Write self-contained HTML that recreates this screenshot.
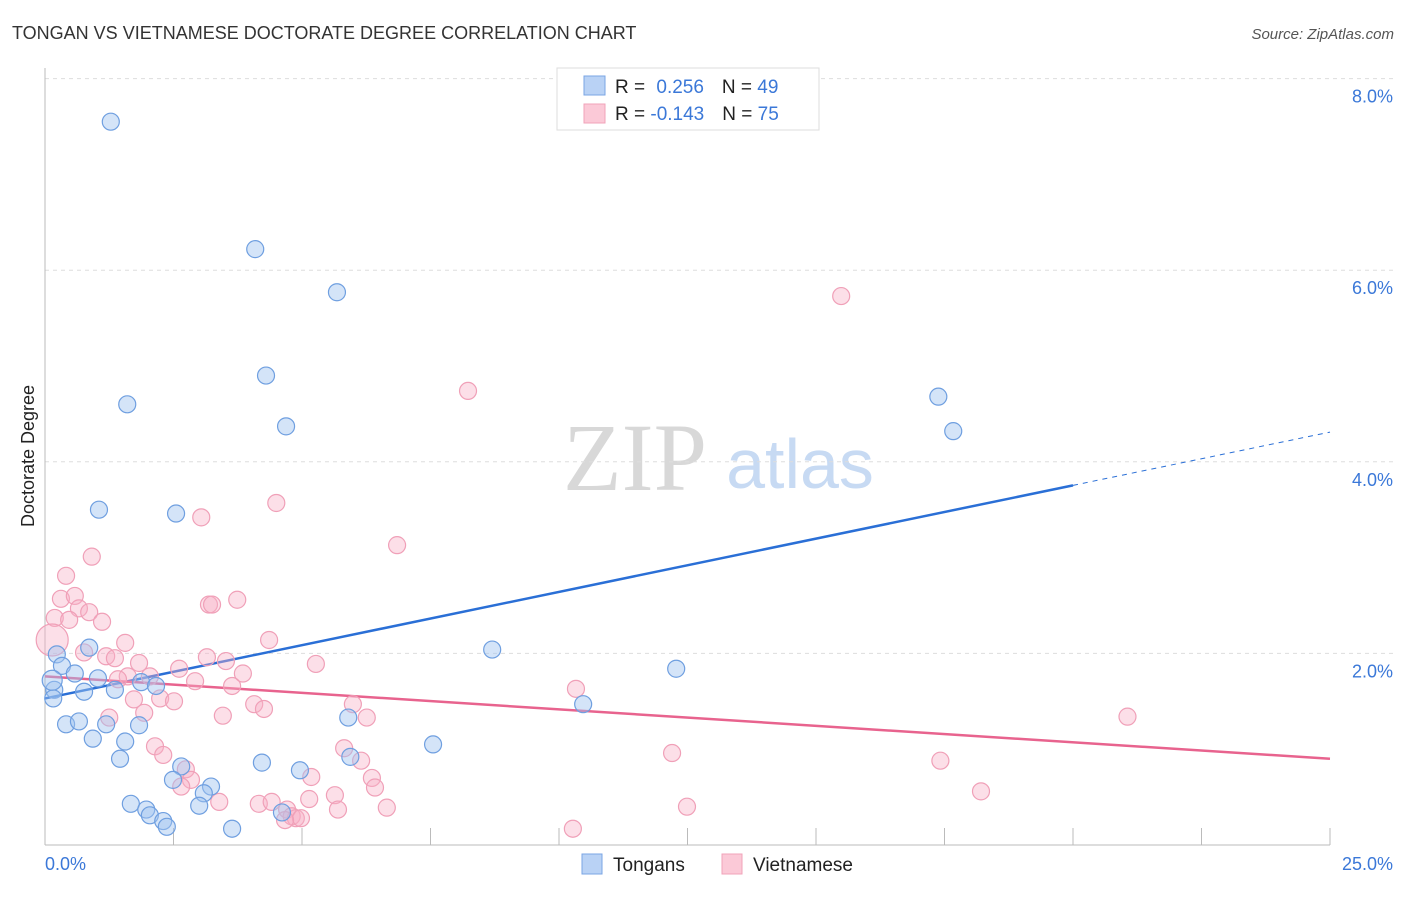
<!DOCTYPE html>
<html><head><meta charset="utf-8"><style>
body{margin:0;background:#fff;font-family:"Liberation Sans",sans-serif}
</style></head><body>
<svg id="chart" width="1406" height="892" viewBox="0 0 1406 892" xmlns="http://www.w3.org/2000/svg">
<text x="12" y="39" font-size="18" fill="#333">TONGAN VS VIETNAMESE DOCTORATE DEGREE CORRELATION CHART</text>
<text x="1394" y="39" font-size="15" fill="#555" text-anchor="end" font-style="italic">Source: ZipAtlas.com</text>
<g>
<text x="635" y="490" font-size="96" fill="#d8d8d8" font-family="Liberation Serif,serif" text-anchor="middle">ZIP</text>
<text x="800" y="488" font-size="70" fill="#c7daf3" text-anchor="middle">atlas</text>
</g>
<g id="grid"></g>
<line x1="45" y1="68" x2="45" y2="845" stroke="#bbb"/>
<line x1="45" y1="845" x2="1330" y2="845" stroke="#bbb"/>
<g id="xticks"></g>
<g id="trend"></g>
<g id="points"></g>
<text x="34" y="456" font-size="18" fill="#222" text-anchor="middle" transform="rotate(-90 34 456)">Doctorate Degree</text>
<text x="45" y="870" font-size="18" fill="#3b78d8">0.0%</text>
<text x="1393" y="870" font-size="18" fill="#3b78d8" text-anchor="end">25.0%</text>
<g>
<rect x="557" y="68" width="262" height="62" fill="#fff" stroke="#ddd"/>
<rect x="584" y="76" width="21" height="19" fill="#b9d2f5" stroke="#7aa5e4"/>
<rect x="584" y="104" width="21" height="19" fill="#fbc9d7" stroke="#f0a3ba"/>
<text x="615" y="93" font-size="19" fill="#222">R = <tspan fill="#3b78d8" dx="6">0.256</tspan><tspan dx="18">N = </tspan><tspan fill="#3b78d8">49</tspan></text>
<text x="615" y="120" font-size="19" fill="#222">R = <tspan fill="#3b78d8">-0.143</tspan><tspan dx="18">N = </tspan><tspan fill="#3b78d8">75</tspan></text>
</g>
<g>
<rect x="582" y="854" width="20" height="20" fill="#b9d2f5" stroke="#7aa5e4"/>
<text x="613" y="871" font-size="19" fill="#222">Tongans</text>
<rect x="722" y="854" width="20" height="20" fill="#fbc9d7" stroke="#f0a3ba"/>
<text x="753" y="871" font-size="19" fill="#222">Vietnamese</text>
</g>
</svg>
<script>
const yTicks=[2,4,6,8];
const xTicks=[2.5,5,7.5,10,12.5,15,17.5,20,22.5,25];
const tonganX=[1.28,4.09,5.68,4.30,1.60,4.69,17.38,17.67,1.05,2.55,8.70,12.28,10.47,0.23,0.86,0.33,0.58,0.18,1.03,0.76,1.36,1.87,2.16,0.16,0.41,0.66,1.19,1.83,0.93,1.56,1.46,5.90,5.94,7.55,2.65,2.49,3.23,3.09,4.22,4.96,1.67,1.97,2.04,2.30,2.37,3.00,3.64,4.61,0.14];
const tonganY=[7.55,6.22,5.77,4.90,4.60,4.37,4.68,4.32,3.50,3.46,2.04,1.84,1.47,1.99,2.06,1.87,1.79,1.62,1.74,1.60,1.62,1.70,1.66,1.53,1.26,1.29,1.26,1.25,1.11,1.08,0.90,1.33,0.92,1.05,0.82,0.68,0.61,0.54,0.86,0.78,0.43,0.37,0.31,0.25,0.19,0.41,0.17,0.34,1.72];
const vietX=[15.49,8.23,4.50,3.04,6.85,0.91,0.41,0.31,0.58,0.66,0.86,1.11,0.19,0.47,0.14,3.74,3.19,3.25,1.56,4.36,0.76,1.19,1.36,1.83,3.15,3.52,5.27,2.61,1.61,1.42,2.04,2.92,3.85,3.64,10.33,2.24,2.51,1.73,4.07,4.26,5.99,1.93,1.25,3.46,6.26,21.06,2.14,2.30,5.82,6.15,2.74,2.84,2.65,5.18,6.36,6.42,12.20,17.42,18.21,3.39,4.16,4.41,5.14,5.64,4.71,4.80,4.88,4.98,4.67,5.70,6.65,12.49,10.27];
const vietY=[5.73,4.74,3.57,3.42,3.13,3.01,2.81,2.57,2.60,2.47,2.43,2.33,2.37,2.35,2.14,2.56,2.51,2.51,2.11,2.14,2.01,1.97,1.95,1.90,1.96,1.92,1.89,1.84,1.76,1.73,1.76,1.71,1.79,1.66,1.63,1.53,1.50,1.52,1.47,1.42,1.47,1.38,1.33,1.35,1.33,1.34,1.03,0.94,1.01,0.88,0.79,0.68,0.61,0.71,0.70,0.60,0.96,0.88,0.56,0.45,0.43,0.45,0.48,0.52,0.37,0.30,0.28,0.28,0.26,0.37,0.39,0.40,0.17];
const tonganTrend=[1.53,4.31];
const vietTrend=[1.76,0.90];
const NS='http://www.w3.org/2000/svg';
const X=v=>45+v/25*1285;
const Y=v=>845-v*95.8;
function mk(tag,attrs,parent){const e=document.createElementNS(NS,tag);for(const k in attrs)e.setAttribute(k,attrs[k]);parent.appendChild(e);return e;}
const grid=document.getElementById('grid');
yTicks.forEach(t=>{
  const l=mk('line',{x1:45,x2:1394,y1:Y(t),y2:Y(t),stroke:'#ddd','stroke-dasharray':'4,4'},grid);
  
  
  const tx=mk('text',{x:1393,y:Y(t)+24,'font-size':18,fill:'#3b78d8','text-anchor':'end'},grid);
  tx.textContent=t.toFixed(1)+'%';
  
  
});
const xt=document.getElementById('xticks');
xTicks.forEach(t=>{
  const l=mk('line',{x1:X(t),x2:X(t),y1:828,y2:845,stroke:'#bbb'},xt);
  
  
});
const tr=document.getElementById('trend');
const xEnd=20;
const ty=x=>tonganTrend[0]+(tonganTrend[1]-tonganTrend[0])*x/25;
let l1=mk('line',{x1:X(0),y1:Y(ty(0)),x2:X(xEnd),y2:Y(ty(xEnd)),stroke:'#2a6fd6','stroke-width':2.5},tr);


let l2=mk('line',{x1:X(xEnd),y1:Y(ty(xEnd)),x2:X(25),y2:Y(ty(25)),stroke:'#2a6fd6','stroke-width':1,'stroke-dasharray':'5,5'},tr);


let l3=mk('line',{x1:X(0),y1:Y(vietTrend[0]),x2:X(25),y2:Y(vietTrend[1]),stroke:'#e8638e','stroke-width':2.5},tr);


const pts=document.getElementById('points');
vietX.forEach((x,i)=>{
  const c=mk('circle',{cx:X(x),cy:Y(vietY[i]),r:(i===14?16:8.5),fill:'rgba(248,175,198,0.4)',stroke:'#f0a0b8','stroke-width':1.2},pts);
  
  
});
tonganX.forEach((x,i)=>{
  const c=mk('circle',{cx:X(x),cy:Y(tonganY[i]),r:(i===48?10:8.5),fill:'rgba(160,195,240,0.45)',stroke:'#6f9fe0','stroke-width':1.2},pts);
  
  
});
</script>
</body></html>
